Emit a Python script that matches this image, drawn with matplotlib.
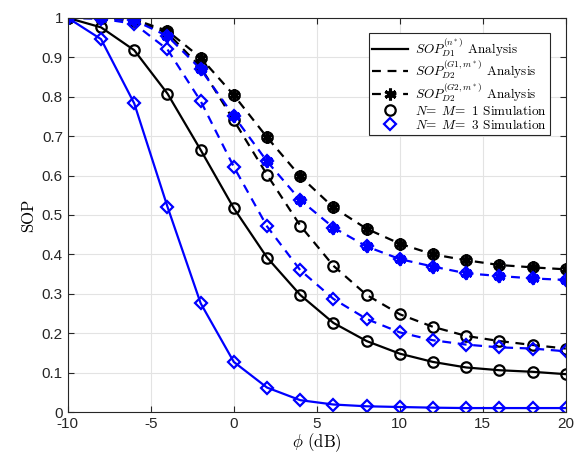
import matplotlib
matplotlib.use("Agg")
import matplotlib.pyplot as plt
from matplotlib.lines import Line2D

plt.rcParams['mathtext.fontset'] = 'cm'
plt.rcParams['font.family'] = ['Liberation Sans', 'DejaVu Sans']
plt.rcParams['axes.unicode_minus'] = False

phi = [-10, -8, -6, -4, -2, 0, 2, 4, 6, 8, 10, 12, 14, 16, 18, 20]

# N = M = 1 (black)
d1_n1 = [1.0, 0.976, 0.918, 0.808, 0.665, 0.517, 0.392, 0.297, 0.226, 0.180, 0.148, 0.127, 0.113, 0.106, 0.102, 0.096]
g1_n1 = [1.0, 0.999, 0.993, 0.962, 0.875, 0.740, 0.602, 0.473, 0.371, 0.297, 0.248, 0.216, 0.193, 0.180, 0.170, 0.161]
g2_n1 = [1.0, 1.0, 0.996, 0.967, 0.899, 0.804, 0.697, 0.598, 0.519, 0.465, 0.427, 0.400, 0.385, 0.373, 0.367, 0.362]

# N = M = 3 (blue)
d1_n3 = [1.0, 0.946, 0.783, 0.521, 0.276, 0.127, 0.062, 0.030, 0.019, 0.0145, 0.0127, 0.011, 0.010, 0.010, 0.010, 0.010]
g1_n3 = [1.0, 0.998, 0.985, 0.920, 0.789, 0.622, 0.471, 0.360, 0.287, 0.236, 0.202, 0.182, 0.171, 0.164, 0.161, 0.154]
g2_n3 = [1.0, 1.0, 0.994, 0.954, 0.870, 0.751, 0.636, 0.538, 0.468, 0.420, 0.388, 0.369, 0.352, 0.345, 0.339, 0.335]

blue = '#0000ff'
lw = 1.6
ms = 7.5
mew = 1.6
ast = (6, 2, 0)

fig = plt.figure(figsize=(5.75, 4.53), dpi=100)
ax = fig.add_axes([0.118, 0.0905, 0.866, 0.870])

for color, d1, g1, g2, mk in [('k', d1_n1, g1_n1, g2_n1, 'o'), (blue, d1_n3, g1_n3, g2_n3, 'D')]:
    ax.plot(phi, d1, '-', color=color, lw=lw)
    ax.plot(phi, g1, '--', color=color, lw=lw, dashes=(4, 3))
    ax.plot(phi, g2, '--', color=color, lw=lw, dashes=(4, 3), marker=ast, ms=8.5,
            mew=2.2, mfc=color, mec=color)
    msz = ms if mk == 'o' else ms - 1
    for s in (d1, g1, g2):
        ax.plot(phi, s, linestyle='none', marker=mk, ms=msz, mfc='none', mec=color, mew=mew)

ax.set_xlim(-10, 20)
ax.set_ylim(0, 1)
ax.set_xticks([-10, -5, 0, 5, 10, 15, 20])
ax.set_yticks([0, 0.1, 0.2, 0.3, 0.4, 0.5, 0.6, 0.7, 0.8, 0.9, 1])
ax.set_yticklabels(['0', '0.1', '0.2', '0.3', '0.4', '0.5', '0.6', '0.7', '0.8', '0.9', '1'])
ax.grid(True, color='#e3e3e3', lw=0.8)
ax.set_axisbelow(True)
ax.tick_params(direction='in', length=4, width=0.8, labelsize=11, colors='#262626', top=True, right=True,
               labeltop=False, labelright=False)
for sp in ax.spines.values():
    sp.set_color('#262626')
    sp.set_linewidth(0.8)

ax.set_xlabel(r'$\phi$ (dB)', fontsize=12, family='cmr10', labelpad=0)
ax.set_ylabel('SOP', fontsize=12, family='cmr10', labelpad=4)

handles = [
    Line2D([], [], color='k', ls='-', lw=lw),
    Line2D([], [], color='k', ls='--', lw=lw, dashes=(4, 3)),
    Line2D([], [], color='k', ls='--', lw=lw, dashes=(4, 3), marker=ast, ms=8.5, mew=2.2, mfc='k', mec='k'),
    Line2D([], [], color='k', ls='none', marker='o', ms=ms, mfc='none', mew=mew),
    Line2D([], [], color=blue, ls='none', marker='D', ms=ms - 1, mfc='none', mew=mew),
]
labels = [
    r'$SOP_{D1}^{(n^*)}$ Analysis',
    r'$SOP_{D2}^{(G1,m^*)}$ Analysis',
    r'$SOP_{D2}^{(G2,m^*)}$ Analysis',
    r'$N\!=\;M\!=$ 1 Simulation',
    r'$N\!=\;M\!=$ 3 Simulation',
]
leg = ax.legend(handles, labels, loc='upper right', bbox_to_anchor=(0.968, 0.962),
                prop={'family': 'cmr10', 'size': 9.5}, frameon=True, fancybox=False,
                edgecolor='#262626', framealpha=1, borderpad=0.25, labelspacing=0.0,
                handlelength=2.7, handletextpad=0.5, borderaxespad=0)
leg.get_frame().set_linewidth(0.8)

fig.savefig('out.png', dpi=100)
